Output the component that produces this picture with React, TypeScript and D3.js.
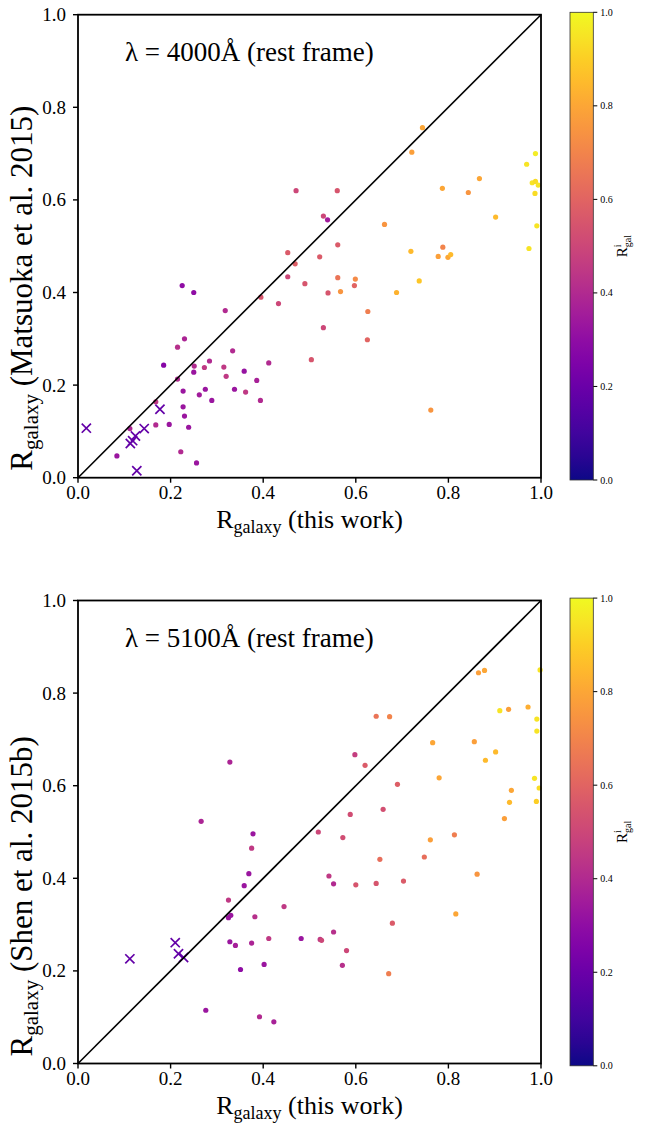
import React from 'react';
import * as d3 from 'd3';

// Top panel: lambda = 4000 A  [x (this work), y (Matsuoka), colour R^i_gal]
const topPoints: [number, number, number][] = [
  [0.471, 0.620, 0.50], [0.744, 0.756, 0.80], [0.721, 0.703, 0.78], [0.988, 0.700, 0.97],
  [0.969, 0.677, 0.95], [0.867, 0.646, 0.80], [0.981, 0.637, 0.95], [0.988, 0.640, 0.93],
  [0.994, 0.632, 0.95], [0.787, 0.625, 0.80], [0.843, 0.616, 0.75], [0.987, 0.614, 0.93],
  [0.560, 0.620, 0.55], [0.530, 0.565, 0.50], [0.539, 0.557, 0.35], [0.902, 0.563, 0.85],
  [0.662, 0.547, 0.75], [0.991, 0.544, 0.95], [0.561, 0.503, 0.57], [0.788, 0.498, 0.70],
  [0.974, 0.495, 0.95], [0.719, 0.489, 0.85], [0.522, 0.477, 0.57], [0.778, 0.478, 0.78],
  [0.799, 0.476, 0.80], [0.805, 0.482, 0.85], [0.490, 0.419, 0.55], [0.561, 0.432, 0.65],
  [0.599, 0.429, 0.72], [0.597, 0.415, 0.60], [0.540, 0.399, 0.55], [0.567, 0.402, 0.75],
  [0.737, 0.425, 0.88], [0.688, 0.400, 0.83], [0.626, 0.359, 0.68], [0.530, 0.324, 0.50],
  [0.625, 0.298, 0.60], [0.504, 0.255, 0.55], [0.762, 0.146, 0.75], [0.453, 0.486, 0.57],
  [0.469, 0.462, 0.58], [0.453, 0.434, 0.50], [0.225, 0.415, 0.30], [0.250, 0.400, 0.30],
  [0.395, 0.390, 0.55], [0.433, 0.376, 0.50], [0.318, 0.361, 0.40], [0.230, 0.300, 0.38],
  [0.215, 0.282, 0.42], [0.334, 0.274, 0.40], [0.185, 0.243, 0.27], [0.284, 0.252, 0.40],
  [0.251, 0.241, 0.40], [0.273, 0.238, 0.45], [0.315, 0.239, 0.45], [0.412, 0.248, 0.40],
  [0.250, 0.228, 0.33], [0.320, 0.219, 0.45], [0.359, 0.230, 0.32], [0.215, 0.213, 0.40],
  [0.386, 0.210, 0.37], [0.227, 0.187, 0.33], [0.275, 0.191, 0.33], [0.338, 0.191, 0.33],
  [0.262, 0.179, 0.35], [0.362, 0.185, 0.45], [0.394, 0.167, 0.40], [0.289, 0.167, 0.33],
  [0.168, 0.164, 0.45], [0.227, 0.153, 0.33], [0.230, 0.133, 0.33], [0.168, 0.114, 0.40],
  [0.197, 0.115, 0.33], [0.239, 0.109, 0.33], [0.112, 0.106, 0.38], [0.084, 0.047, 0.33],
  [0.222, 0.056, 0.40], [0.256, 0.032, 0.33],
];
const topCrosses: [number, number][] = [
  [0.018, 0.107], [0.113, 0.074], [0.118, 0.080], [0.124, 0.090],
  [0.143, 0.106], [0.177, 0.148], [0.127, 0.015],
];

// Bottom panel: lambda = 5100 A  [x (this work), y (Shen), colour R^i_gal]
const bottomPoints: [number, number, number][] = [
  [0.328, 0.651, 0.38], [0.266, 0.523, 0.38], [0.378, 0.496, 0.33], [0.519, 0.500, 0.50],
  [0.865, 0.844, 0.78], [0.878, 0.849, 0.80], [0.998, 0.850, 0.95], [0.644, 0.750, 0.65],
  [0.673, 0.749, 0.70], [0.911, 0.762, 0.95], [0.930, 0.765, 0.78], [0.972, 0.770, 0.82],
  [0.991, 0.744, 0.95], [0.991, 0.718, 0.95], [0.766, 0.693, 0.80], [0.856, 0.695, 0.78],
  [0.902, 0.673, 0.85], [0.880, 0.655, 0.85], [0.598, 0.667, 0.47], [0.620, 0.644, 0.57],
  [0.690, 0.603, 0.58], [0.780, 0.617, 0.80], [0.986, 0.616, 0.95], [0.996, 0.595, 0.93],
  [0.936, 0.590, 0.80], [0.932, 0.564, 0.85], [0.990, 0.566, 0.90], [0.659, 0.549, 0.53],
  [0.588, 0.538, 0.52], [0.921, 0.529, 0.78], [0.572, 0.488, 0.52], [0.761, 0.483, 0.78],
  [0.813, 0.494, 0.68], [0.652, 0.441, 0.63], [0.748, 0.446, 0.63], [0.862, 0.409, 0.75],
  [0.542, 0.405, 0.45], [0.552, 0.388, 0.40], [0.600, 0.386, 0.55], [0.644, 0.389, 0.55],
  [0.703, 0.394, 0.57], [0.816, 0.323, 0.80], [0.679, 0.303, 0.57], [0.482, 0.270, 0.33],
  [0.523, 0.268, 0.45], [0.526, 0.266, 0.50], [0.552, 0.284, 0.42], [0.580, 0.244, 0.50],
  [0.571, 0.212, 0.42], [0.671, 0.194, 0.68], [0.375, 0.465, 0.45], [0.369, 0.410, 0.33],
  [0.359, 0.384, 0.33], [0.325, 0.353, 0.45], [0.445, 0.339, 0.45], [0.325, 0.315, 0.33],
  [0.330, 0.320, 0.33], [0.382, 0.317, 0.42], [0.412, 0.270, 0.45], [0.328, 0.263, 0.33],
  [0.340, 0.255, 0.36], [0.375, 0.260, 0.38], [0.402, 0.214, 0.33], [0.351, 0.203, 0.30],
  [0.276, 0.115, 0.33], [0.392, 0.101, 0.40], [0.423, 0.090, 0.37],
];
const bottomCrosses: [number, number][] = [
  [0.112, 0.226], [0.210, 0.261], [0.217, 0.237], [0.228, 0.229],
];

const axisTicks = [0, 0.2, 0.4, 0.6, 0.8, 1.0];
const crossColour = 0.18;

const FONT = "'Liberation Serif', 'Times New Roman', serif";

type PanelProps = {
  top: number;
  points: [number, number, number][];
  crosses: [number, number][];
  wavelength: string;
  ylabelRest: string;
  gradId: string;
};

function Panel({ top, points, crosses, wavelength, ylabelRest, gradId }: PanelProps) {
  const left = 78;
  const right = 541;
  const size = 463;
  const bottom = top + size;
  const x = d3.scaleLinear().domain([0, 1]).range([left, right]);
  const y = d3.scaleLinear().domain([0, 1]).range([bottom, top]);
  const cbTop = top - 2.4;
  const cbBottom = bottom + 2.3;
  const cbLeft = 570;
  const cbRight = 593.3;
  const c = d3.scaleLinear().domain([0, 1]).range([cbBottom, cbTop]);
  const stops = d3.range(0, 1.0001, 0.05);
  const cs = 4.6;

  return (
    <g>
      <defs>
        <linearGradient id={gradId} x1="0" y1="1" x2="0" y2="0">
          {stops.map((s) => (
            <stop key={s} offset={s} stopColor={d3.interpolatePlasma(s)} />
          ))}
        </linearGradient>
      </defs>

      {points.map((p, i) => (
        <circle key={i} cx={x(p[0])} cy={y(p[1])} r={2.6} fill={d3.interpolatePlasma(p[2])} />
      ))}
      {crosses.map((p, i) => (
        <path
          key={'c' + i}
          d={`M${x(p[0]) - cs},${y(p[1]) - cs}L${x(p[0]) + cs},${y(p[1]) + cs}M${x(p[0]) - cs},${y(p[1]) + cs}L${x(p[0]) + cs},${y(p[1]) - cs}`}
          stroke={d3.interpolatePlasma(crossColour)}
          strokeWidth={1.7}
          fill="none"
        />
      ))}

      <line x1={x(0)} y1={y(0)} x2={x(1)} y2={y(1)} stroke="#000" strokeWidth={1.6} />

      <rect x={left} y={top} width={size} height={size} fill="none" stroke="#000" strokeWidth={1.8} />

      {axisTicks.map((t) => (
        <g key={'x' + t}>
          <line x1={x(t)} x2={x(t)} y1={bottom} y2={bottom + 5} stroke="#000" strokeWidth={1.4} />
          <text x={x(t)} y={bottom + 21} textAnchor="middle" fontSize={19} fontFamily={FONT}>
            {t.toFixed(1)}
          </text>
        </g>
      ))}
      {axisTicks.map((t) => (
        <g key={'y' + t}>
          <line x1={left - 5} x2={left} y1={y(t)} y2={y(t)} stroke="#000" strokeWidth={1.4} />
          <text x={left - 12} y={y(t) + 6.5} textAnchor="end" fontSize={19} fontFamily={FONT}>
            {t.toFixed(1)}
          </text>
        </g>
      ))}

      <text x={125} y={top + 46} fontSize={27} fontFamily={FONT}>
        {wavelength}
      </text>

      <text x={(left + right) / 2} y={bottom + 50} textAnchor="middle" fontSize={26} fontFamily={FONT}>
        <tspan>R</tspan>
        <tspan fontSize={18} dy={5}>galaxy</tspan>
        <tspan dy={-5}> (this work)</tspan>
      </text>

      <g transform={`translate(32,${bottom - 7}) rotate(-90)`}>
        <text x={0} y={0} textAnchor="start" fontSize={31} fontFamily={FONT}>
          <tspan>R</tspan>
          <tspan fontSize={21} dy={6}>galaxy</tspan>
          <tspan dy={-6}>{ylabelRest}</tspan>
        </text>
      </g>

      <rect x={cbLeft} y={cbTop} width={cbRight - cbLeft} height={cbBottom - cbTop} fill={`url(#${gradId})`} stroke="#333" strokeWidth={0.8} />
      {axisTicks.map((t) => (
        <g key={'cb' + t}>
          <line x1={cbRight} x2={cbRight + 4} y1={c(t)} y2={c(t)} stroke="#000" strokeWidth={1} />
          <text x={cbRight + 7} y={c(t) + 3.5} fontSize={10} fontFamily={FONT}>
            {t.toFixed(1)}
          </text>
        </g>
      ))}
      <g transform={`translate(627,${(cbTop + cbBottom) / 2}) rotate(-90)`}>
        <text x={-11} y={0} fontSize={15} fontFamily={FONT}>R</text>
        <text x={-1} y={-6} fontSize={10} fontFamily={FONT}>i</text>
        <text x={-1} y={4} fontSize={10} fontFamily={FONT}>gal</text>
      </g>
    </g>
  );
}

export default function App() {
  return (
    <svg
      width={648}
      height={1125}
      style={{ position: 'absolute', left: 0, top: 0, background: '#fff' }}
    >
      <rect x={0} y={0} width={648} height={1125} fill="#fff" />
      <Panel
        top={14.7}
        points={topPoints}
        crosses={topCrosses}
        wavelength="λ = 4000Å (rest frame)"
        ylabelRest=" (Matsuoka et al. 2015)"
        gradId="cbTop"
      />
      <Panel
        top={600.5}
        points={bottomPoints}
        crosses={bottomCrosses}
        wavelength="λ = 5100Å (rest frame)"
        ylabelRest=" (Shen et al. 2015b)"
        gradId="cbBottom"
      />
    </svg>
  );
}
